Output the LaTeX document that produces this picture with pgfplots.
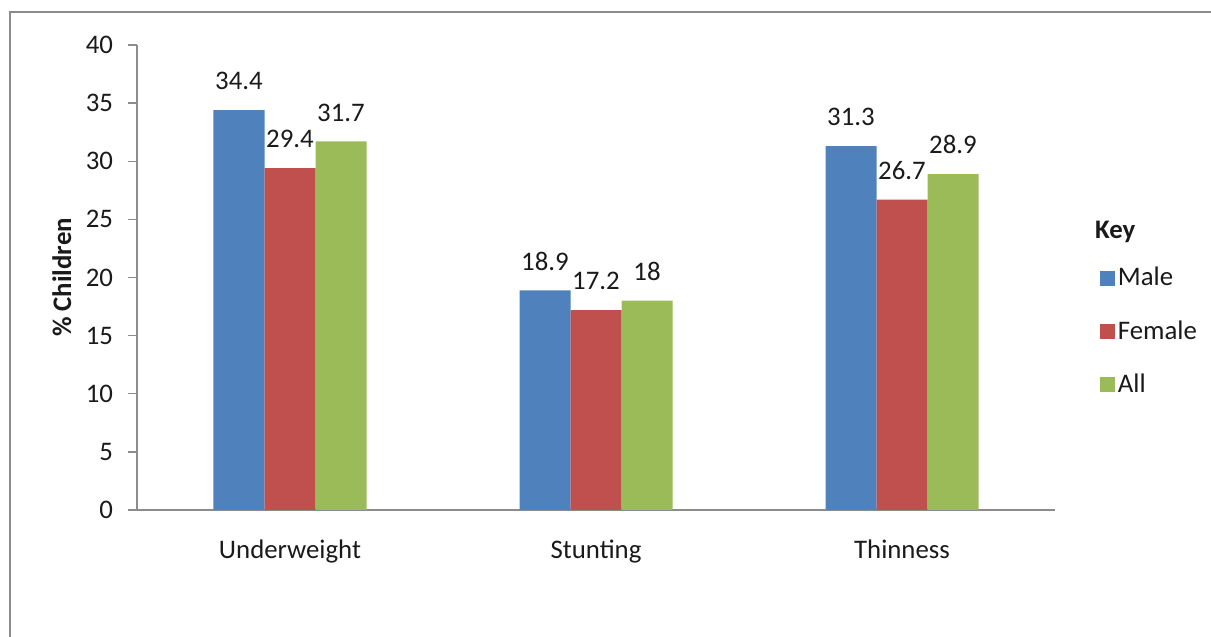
\documentclass[border=0pt]{standalone}
\usepackage{pgfplots}
\pgfplotsset{compat=1.18}
\usepackage{fontspec}
\setmainfont{Carlito}
\definecolor{cblue}{HTML}{4F81BD}
\definecolor{cred}{HTML}{C0504D}
\definecolor{cgreen}{HTML}{9BBB59}
\definecolor{framegray}{HTML}{8C8C8C}
\definecolor{axgray}{HTML}{8C8C8C}
\definecolor{txt}{HTML}{1A1A1A}
\begin{document}
\begin{tikzpicture}[x=1pt,y=1pt]
\useasboundingbox (0,0) rectangle (605.5,318.5);
\draw[framegray, line width=1pt] (5,-2) -- (5,312.5) -- (607,312.5);
\begin{axis}[
  at={(68.5pt,63.5pt)}, anchor=south west,
  scale only axis, width=459pt, height=232.5pt,
  ymin=0, ymax=40, ytick={0,5,...,40},
  xmin=-0.5, xmax=2.5,
  xtick={0,1,2}, xticklabels={Underweight,Stunting,Thinness},
  axis x line*=bottom, axis y line*=left,
  axis line style={axgray, line width=0.75pt, -},
  ytick style={axgray, line width=0.75pt},
  xtick style={draw=none},
  major tick length=4.5pt, tick align=outside,
  ybar=0pt, bar width=25.5pt,
  font=\fontsize{13.4}{15}\selectfont\color{txt},
  /pgf/number format/assume math mode=true,
  yticklabel style={xshift=-4pt},
  xticklabel style={yshift=-7pt},
  nodes near coords,
  every node near coord/.append style={font=\fontsize{13.4}{15}\selectfont\color{txt}, yshift=6.5pt},
  ylabel={\textbf{\% Children}},
  ylabel style={at={(rel axis cs:-0.082,0.5)}, anchor=center},
  legend style={at={(rel axis cs:1.042,0.538)}, anchor=north west, draw=none, fill=none,
    row sep=12.8pt, font=\fontsize{13.4}{15}\selectfont\color{txt},
    nodes={inner sep=1.5pt}},
  legend cell align=left,
  legend image code/.code={\fill[#1,draw=none] (0pt,-3.75pt) rectangle (7.5pt,3.75pt);},
  clip=false,
]
\addplot[fill=cblue, draw=none] coordinates {(0,34.4) (1,18.9) (2,31.3)};
\addplot[fill=cred, draw=none] coordinates {(0,29.4) (1,17.2) (2,26.7)};
\addplot[fill=cgreen, draw=none] coordinates {(0,31.7) (1,18) (2,28.9)};
\legend{Male,Female,All}
\node[anchor=west, font=\fontsize{13.4}{15}\selectfont\bfseries\color{txt}] at (rel axis cs:1.036,0.598) {Key};
\end{axis}
\end{tikzpicture}
\end{document}
